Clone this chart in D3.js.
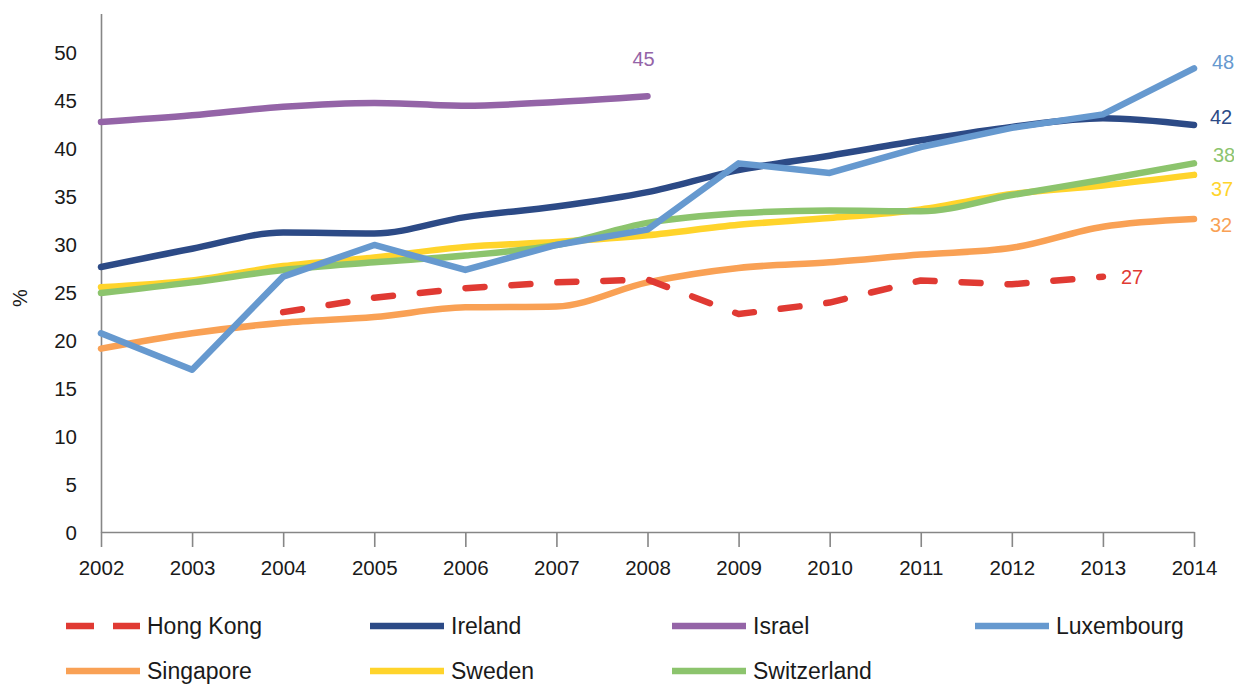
<!DOCTYPE html>
<html><head><meta charset="utf-8">
<script src="https://cdn.jsdelivr.net/npm/d3@7"></script>
<style>
body{margin:0;background:#fff;}
text{font-family:"Liberation Sans",Arial,sans-serif;}
</style>
</head><body>
<svg id="chart" width="1234" height="684"></svg>
<script>
// ---- data ----
const years = [2002,2003,2004,2005,2006,2007,2008,2009,2010,2011,2012,2013,2014];
const yTicks = [0,5,10,15,20,25,30,35,40,45,50];
const seriesNames = ["Hong Kong","Ireland","Israel","Luxembourg","Singapore","Sweden","Switzerland"];
const hongKong    = [null,null,22.9,24.4,25.4,26.0,26.3,22.7,23.9,26.2,25.8,26.6,null];
const ireland     = [27.6,29.5,31.2,31.1,32.8,33.9,35.4,37.7,39.2,40.8,42.2,43.1,42.4];
const israel      = [42.7,43.4,44.3,44.7,44.4,44.8,45.4,null,null,null,null,null,null];
const luxembourg  = [20.7,16.9,26.6,29.9,27.3,29.9,31.5,38.4,37.4,40.1,42.1,43.5,48.3];
const singapore   = [19.1,20.7,21.8,22.4,23.4,23.5,26.0,27.5,28.1,28.9,29.6,31.8,32.6];
const sweden      = [25.5,26.2,27.7,28.6,29.7,30.2,30.9,32.0,32.7,33.6,35.2,36.1,37.2];
const switzerland = [24.9,26.0,27.3,28.1,28.8,29.9,32.2,33.2,33.5,33.4,35.1,36.7,38.4];
const endLabels   = ["27","42","45","48","32","37","38"];

// ---- styles / layout ----
const colors = {"Hong Kong":"#E03A33","Ireland":"#2C4A86","Israel":"#9464A7","Luxembourg":"#6699CF",
  "Singapore":"#F9A155","Sweden":"#FFD42B","Switzerland":"#8CC46D"};
const valuesByName = {"Hong Kong":hongKong,"Ireland":ireland,"Israel":israel,"Luxembourg":luxembourg,
  "Singapore":singapore,"Sweden":sweden,"Switzerland":switzerland};
const curves = {"Hong Kong":d3.curveLinear,"Ireland":d3.curveMonotoneX,"Israel":d3.curveMonotoneX,
  "Luxembourg":d3.curveLinear,"Singapore":d3.curveMonotoneX,"Sweden":d3.curveMonotoneX,"Switzerland":d3.curveMonotoneX};
const labelOffsets = {"Hong Kong":[18,0],"Ireland":[16,-8],"Israel":[-15,-37],"Luxembourg":[18,-6],
  "Singapore":[16,6],"Sweden":[17,14],"Switzerland":[19,-8]};
const drawOrder = ["Singapore","Sweden","Switzerland","Ireland","Israel","Luxembourg","Hong Kong"];

const svg = d3.select("#chart");
const x = d3.scaleLinear().domain([2002,2014]).range([101,1194]);
const y = d3.scaleLinear().domain([0,54]).range([532,532-54*9.6]);

// axes
const xAxis = svg.append("g").attr("transform",`translate(0,${y(0)})`)
  .call(d3.axisBottom(x).tickValues(years).tickFormat(d3.format("d")).tickSize(15).tickSizeOuter(0).tickPadding(13));
const yAxis = svg.append("g").attr("transform",`translate(${x(2002)},0)`)
  .call(d3.axisLeft(y).tickValues(yTicks).tickSize(0).tickSizeOuter(0).tickPadding(24));
[xAxis,yAxis].forEach(g=>{
  g.selectAll("path,line").attr("stroke","#868686").attr("stroke-width",1.6);
  g.selectAll("text").attr("fill","#1a1a1a").style("font-size","20.5px");
});
yAxis.selectAll("text").attr("dy","0.35em");

svg.append("text").attr("transform","translate(27,298) rotate(-90)")
  .attr("text-anchor","middle").style("font-size","20px").attr("fill","#1a1a1a").text("%");

// lines
drawOrder.forEach(name=>{
  const vals = valuesByName[name];
  const pts = years.map((yr,i)=>({yr,v:vals[i]})).filter(d=>d.v!==null);
  const line = d3.line().x(d=>x(d.yr)).y(d=>y(d.v)).curve(curves[name]);
  const p = svg.append("path").datum(pts).attr("d",line)
    .attr("fill","none").attr("stroke",colors[name]).attr("stroke-width",6.5)
    .attr("stroke-linecap","round").attr("stroke-linejoin","round");
  if(name==="Hong Kong") p.attr("stroke-dasharray","19 27");
  const last = pts[pts.length-1];
  const off = labelOffsets[name];
  svg.append("text").attr("x",x(last.yr)+off[0]).attr("y",y(last.v)+off[1])
    .attr("dy","0.35em").attr("fill",colors[name]).style("font-size","20px")
    .text(endLabels[seriesNames.indexOf(name)]);
});

// legend
const legCols = [66,370,672,975], legRows = [626,671];
seriesNames.forEach((name,i)=>{
  const lx = legCols[i%4], ly = legRows[Math.floor(i/4)];
  const l = svg.append("line").attr("x1",lx).attr("x2",lx+74).attr("y1",ly).attr("y2",ly)
    .attr("stroke",colors[name]).attr("stroke-width",6.5);
  if(name==="Hong Kong") l.attr("stroke-dasharray","28 19");
  svg.append("text").attr("x",lx+81).attr("y",ly).attr("dy","0.35em")
    .style("font-size","23px").attr("fill","#1a1a1a").text(name);
});
</script>
</body></html>
